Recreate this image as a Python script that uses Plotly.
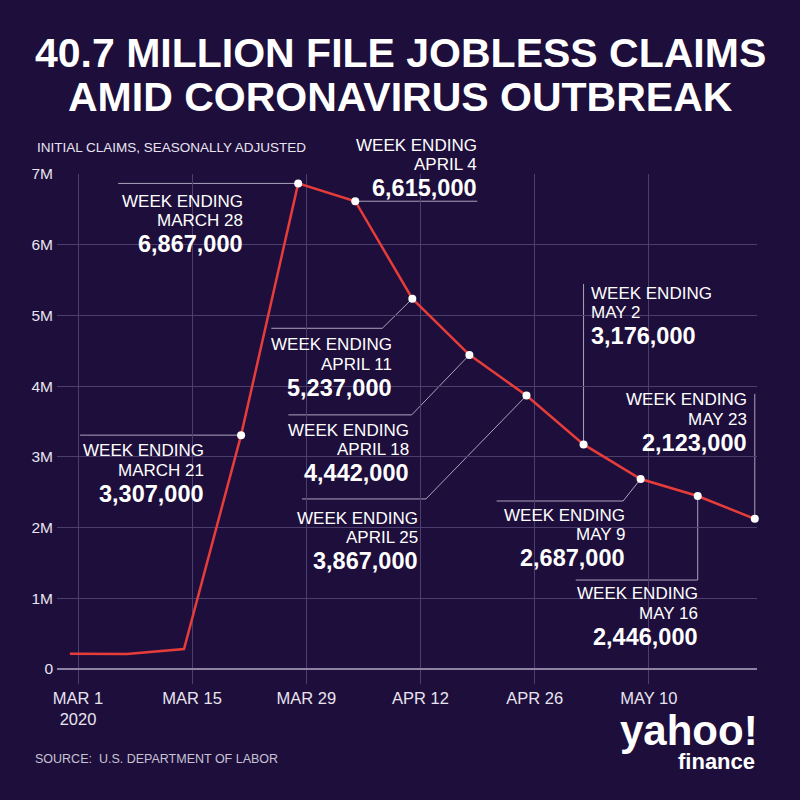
import plotly.graph_objects as go

# ---------------- data ----------------
week_ending = ['2020-02-29', '2020-03-07', '2020-03-14', '2020-03-21', '2020-03-28',
               '2020-04-04', '2020-04-11', '2020-04-18', '2020-04-25', '2020-05-02',
               '2020-05-09', '2020-05-16', '2020-05-23']
claims = [217000, 211000, 282000, 3307000, 6867000, 6615000, 5237000, 4442000,
          3867000, 3176000, 2687000, 2446000, 2123000]

label_dates = ['MARCH 21', 'MARCH 28', 'APRIL 4', 'APRIL 11', 'APRIL 18', 'APRIL 25',
               'MAY 2', 'MAY 9', 'MAY 16', 'MAY 23']
first_labelled = 3

x_tick_vals = ['2020-03-01', '2020-03-15', '2020-03-29', '2020-04-12', '2020-04-26', '2020-05-10']
x_tick_text = ['MAR 1<br>2020', 'MAR 15', 'MAR 29', 'APR 12', 'APR 26', 'MAY 10']
y_tick_vals = [0, 1e6, 2e6, 3e6, 4e6, 5e6, 6e6, 7e6]
y_tick_text = ['0', '1M', '2M', '3M', '4M', '5M', '6M', '7M']

# ---------------- styles ----------------
BG = '#1e0e3b'
GRID = '#4b3f6e'
ZERO = '#8c84a4'
RED = '#e63d3a'
LEADER = '#aaa4bd'
WHITE = '#ffffff'
TICKC = '#e8e4f0'
SANS = 'Liberation Sans, Arial, sans-serif'

# label layout: text anchor side, x shift (px), first-line y offset (px, down), leader path (px, y up)
label_style = [
    dict(side='right', dx=-37, dy=15.5, path='M0,0 L-161,0'),
    dict(side='right', dx=-55, dy=18, path='M0,0 L-180,0'),
    dict(side='right', dx=122, dy=-56, path='M0,0 L122,0'),
    dict(side='right', dx=-20.5, dy=46.3, path='M0,0 L-30,-29.6 L-141,-29.6'),
    dict(side='right', dx=-60, dy=75.5, path='M0,0 L-57.7,-60 L-181,-60'),
    dict(side='right', dx=-108.7, dy=122.9, path='M0,0 L-100.5,-103.4 L-224.5,-103.4'),
    dict(side='left', dx=7, dy=-151, path='M0,0 L0,160.5'),
    dict(side='right', dx=-16, dy=36.5, path='M0,0 L-17.5,-22 L-144,-22'),
    dict(side='right', dx=0, dy=97.5, path='M0,0 L0,-84 L-122,-84'),
    dict(side='right', dx=-8, dy=-119, path='M0,0 L0,125'),
]

L, R, T, B = 57, 43, 174, 131
PW, PH = 800 - L - R, 800 - T - B


def px(xp):
    return (xp - L) / PW


def py(yp):
    return (800 - B - yp) / PH


fig = go.Figure()
fig.add_trace(go.Scatter(x=week_ending, y=claims, mode='lines',
                         line=dict(color=RED, width=2.5), hoverinfo='skip', cliponaxis=False))
fig.add_trace(go.Scatter(x=week_ending[first_labelled:], y=claims[first_labelled:], mode='markers',
                         marker=dict(color=WHITE, size=8), hoverinfo='skip', cliponaxis=False))

annotations = []
shapes = []
for i, (lab, st) in enumerate(zip(label_dates, label_style)):
    xd = week_ending[first_labelled + i]
    yv = claims[first_labelled + i]
    shapes.append(dict(type='path', xref='x', yref='y', xsizemode='pixel', ysizemode='pixel',
                       xanchor=xd, yanchor=yv, path=st['path'],
                       line=dict(color=LEADER, width=1), layer='below'))
    lines = [('WEEK ENDING', 17, 'normal', 0), (lab, 17, 'normal', 19.5),
             (f'{yv:,}', 23.5, 'bold', 43)]
    for txt, size, wt, off in lines:
        annotations.append(dict(x=xd, y=yv, xref='x', yref='y', text=txt, showarrow=False,
                                xanchor=st['side'], yanchor='middle',
                                xshift=st['dx'], yshift=-(st['dy'] + off),
                                borderpad=0, borderwidth=0,
                                font=dict(family=SANS, size=size, color=WHITE, weight=wt)))

# title + texts
annotations += [
    dict(xref='paper', yref='paper', x=px(400), y=py(53), text='40.7 MILLION FILE JOBLESS CLAIMS',
         showarrow=False, xanchor='center', yanchor='middle',
         font=dict(family=SANS, size=41, color=WHITE, weight='bold')),
    dict(xref='paper', yref='paper', x=px(400), y=py(97), text='AMID CORONAVIRUS OUTBREAK',
         showarrow=False, xanchor='center', yanchor='middle',
         font=dict(family=SANS, size=41, color=WHITE, weight='bold')),
    dict(xref='paper', yref='paper', x=px(35), y=py(147.5), text='INITIAL CLAIMS, SEASONALLY ADJUSTED',
         showarrow=False, xanchor='left', yanchor='middle',
         font=dict(family=SANS, size=13.5, color=TICKC)),
    dict(xref='paper', yref='paper', x=px(33), y=py(759), text='SOURCE:  U.S. DEPARTMENT OF LABOR',
         showarrow=False, xanchor='left', yanchor='middle',
         font=dict(family=SANS, size=12.5, color='#c8c4d4')),
    dict(xref='paper', yref='paper', x=px(760), y=py(730), text='yahoo!',
         showarrow=False, xanchor='right', yanchor='middle',
         font=dict(family=SANS, size=42, color=WHITE, weight='bold')),
    dict(xref='paper', yref='paper', x=px(757), y=py(761), text='finance',
         showarrow=False, xanchor='right', yanchor='middle',
         font=dict(family=SANS, size=22, color=WHITE, weight='bold')),
]

fig.update_layout(
    width=800, height=800, autosize=False,
    margin=dict(l=L, r=R, t=T, b=B, pad=0),
    paper_bgcolor=BG, plot_bgcolor=BG,
    showlegend=False,
    annotations=annotations,
    shapes=shapes,
    xaxis=dict(type='date', range=['2020-02-27 10:10', '2020-05-23 06:30'],
               tickvals=x_tick_vals, ticktext=x_tick_text,
               showgrid=True, gridcolor=GRID, gridwidth=1,
               ticks='outside', ticklen=14, tickcolor=GRID, tickwidth=1,
               tickfont=dict(family=SANS, size=16.5, color=TICKC),
               showline=False, zeroline=False, fixedrange=True),
    yaxis=dict(range=[0, 7e6], tickvals=y_tick_vals, ticktext=y_tick_text,
               showgrid=True, gridcolor=GRID, gridwidth=1,
               zeroline=True, zerolinecolor=ZERO, zerolinewidth=2,
               ticks='', ticklabelstandoff=3,
               tickfont=dict(family=SANS, size=15.5, color=TICKC),
               showline=False, fixedrange=True),
)

fig.write_html('out.html', config={'displayModeBar': False},
               post_script="document.body.style.margin='0px';document.body.style.background='%s';" % BG)
